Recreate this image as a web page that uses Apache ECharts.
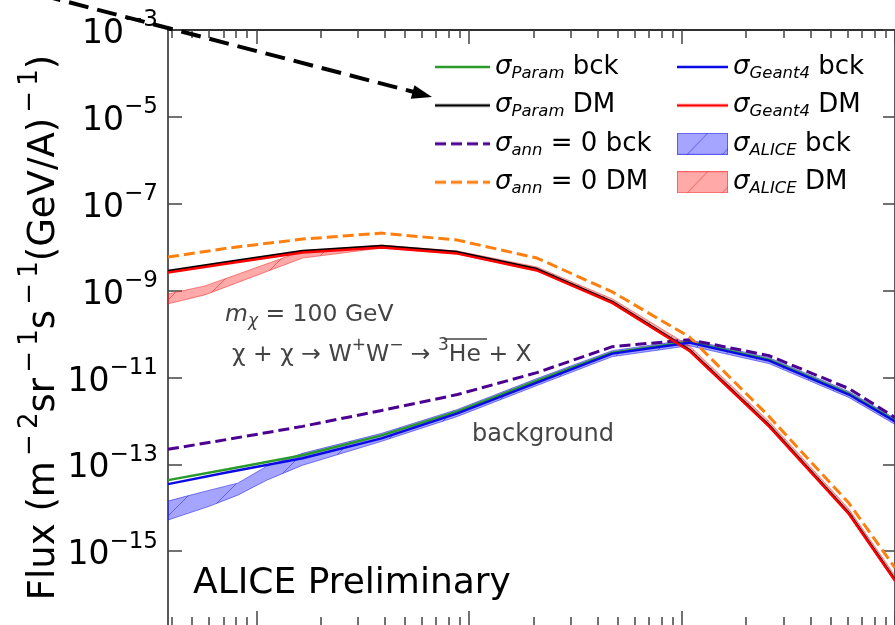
<!DOCTYPE html>
<html>
<head>
<meta charset="utf-8">
<script src="https://cdn.jsdelivr.net/npm/echarts@6/dist/echarts.min.js"></script>
<style>
  html, body { margin: 0; padding: 0; background: #fff; }
  #c { width: 895px; height: 625px; }
</style>
</head>
<body>
<div id="c"></div>
<script>
// Kinetic energy per nucleon (GeV/A) at the curve nodes
const energy = [0.0385, 0.0735, 0.165, 0.388, 0.881, 2.08, 4.70, 10.8, 25.6, 60.7, 100];

// Background (secondary) 3He-bar flux
const paramBck  = [4.32e-14, 7.72e-14, 1.617e-13, 4.65e-13, 1.652e-12, 8.49e-12, 3.72e-11, 6.66e-11, 2.574e-11, 4.27e-12, 1.027e-12];
const geant4Bck = [3.50e-14, 6.59e-14, 1.380e-13, 3.97e-13, 1.486e-12, 7.64e-12, 3.53e-11, 6.32e-11, 2.441e-11, 4.05e-12, 9.74e-13];
const annBck    = [2.219e-13, 3.76e-13, 7.48e-13, 1.741e-12, 4.05e-12, 1.295e-11, 5.11e-11, 7.40e-11, 3.18e-11, 5.56e-12, 1.203e-12];

// Dark-matter (m_chi = 100 GeV, W+W-) 3He-bar flux
const paramDM   = [2.83e-9, 4.55e-9, 8.14e-9, 1.060e-8, 7.72e-9, 3.146e-9, 5.51e-10, 4.36e-11, 7.88e-13, 7.56e-15, 2.196e-16];
const geant4DM  = [2.615e-9, 4.21e-9, 7.52e-9, 9.79e-9, 7.13e-9, 2.905e-9, 5.22e-10, 4.14e-11, 7.48e-13, 7.17e-15, 2.084e-16];
const annDM     = [5.93e-9, 9.54e-9, 1.534e-8, 2.106e-8, 1.455e-8, 5.62e-9, 9.34e-10, 8.67e-11, 1.268e-12, 1.282e-14, 4.14e-16];

// sigma_ALICE uncertainty bands
const aliceBckE  = [0.0385, 0.0452, 0.0605, 0.0819, 0.112, 0.165, 0.388, 0.881, 2.08, 4.70, 10.8, 25.6, 60.7, 100];
const aliceBckHi = [1.424e-14, 1.759e-14, 2.547e-14, 3.69e-14, 9.04e-14, 1.797e-13, 5.17e-13, 1.836e-12, 9.44e-12, 4.14e-11, 7.40e-11, 2.86e-11, 4.75e-12, 1.141e-12];
const aliceBckLo = [5.22e-15, 6.80e-15, 1.094e-14, 1.955e-14, 4.32e-14, 9.54e-14, 3.39e-13, 1.268e-12, 6.52e-12, 3.02e-11, 5.39e-11, 2.084e-11, 3.46e-12, 8.31e-13];

const aliceDME  = [0.0385, 0.0574, 0.165, 0.388, 0.881, 2.08, 4.70, 10.8, 25.6, 60.7, 100];
const aliceDMHi = [8.40e-10, 1.282e-9, 8.14e-9, 1.117e-8, 8.14e-9, 3.50e-9, 6.45e-10, 5.39e-11, 9.74e-13, 9.34e-15, 2.713e-16];
const aliceDMLo = [4.95e-10, 7.97e-10, 5.62e-9, 9.54e-9, 6.95e-9, 2.83e-9, 4.95e-10, 3.93e-11, 7.10e-13, 6.80e-15, 1.977e-16];

// Axis ranges and tick positions
const xMin = 0.0385, xMax = 100;
const yMin = 2.0e-17, yMax = 1e-3;
const xMajor = [0.1, 1, 10, 100];
const xMinor = [0.04, 0.05, 0.06, 0.07, 0.08, 0.09, 0.2, 0.3, 0.4, 0.5, 0.6, 0.7, 0.8, 0.9,
                2, 3, 4, 5, 6, 7, 8, 9, 20, 30, 40, 50, 60, 70, 80, 90];
const yMajor = [1e-15, 1e-13, 1e-11, 1e-9, 1e-7, 1e-5, 1e-3];

const FONT = 'DejaVu Sans';
const F = (size, italic) => (italic ? 'italic ' : '') + size + "px 'DejaVu Sans'";

function zip(xs, ys) { return xs.map((x, i) => [x, ys[i]]); }

function hatchCanvas(color, step) {
  const c = document.createElement('canvas');
  c.width = step; c.height = step;
  const g = c.getContext('2d');
  g.strokeStyle = color; g.lineWidth = 1;
  g.beginPath(); g.moveTo(-2, step + 2); g.lineTo(step + 2, -2); g.stroke();
  return c;
}

// Legend handles drawn as small images
function patchIcon(fill, edge, hatch) {
  const w = 51, h = 22;
  const c = document.createElement('canvas');
  c.width = w; c.height = h;
  const g = c.getContext('2d');
  g.fillStyle = '#fff'; g.fillRect(0, 0, w, h);
  g.fillStyle = fill; g.fillRect(0, 0, w, h);
  g.strokeStyle = hatch; g.lineWidth = 1;
  g.beginPath();
  g.moveTo(10, h); g.lineTo(31, 0);
  g.moveTo(45, h); g.lineTo(66, 0);
  g.stroke();
  g.strokeStyle = edge; g.lineWidth = 1;
  g.strokeRect(0.5, 0.5, w - 1, h - 1);
  return 'image://' + c.toDataURL();
}
function lineIcon(w, color, width, dash) {
  const h = 22;
  const c = document.createElement('canvas');
  c.width = w; c.height = h;
  const g = c.getContext('2d');
  g.strokeStyle = color; g.lineWidth = width;
  if (dash) g.setLineDash(dash);
  g.beginPath(); g.moveTo(0, h / 2); g.lineTo(w, h / 2); g.stroke();
  return 'image://' + c.toDataURL();
}

const cGreen = '#2a9a2a', cBlack = '#000000', cPurple = '#4b0092', cOrange = '#ff7f0e', cBlue = '#0a0ae6', cRed = '#ff0000';
const blueFill = 'rgba(40,40,255,0.42)', blueEdge = 'rgba(30,30,230,0.55)', blueHatch = 'rgba(50,50,220,0.6)';
const redFill = 'rgba(255,40,40,0.40)', redEdge = 'rgba(240,30,30,0.5)', redHatch = 'rgba(220,40,40,0.55)';
const dashPattern = [11, 5];

function band(name, xs, lo, hi, fill, edge, hatch) {
  const pattern = { image: hatchCanvas(hatch, 36), repeat: 'repeat' };
  return {
    type: 'custom', name: name, z: 1, clip: true,
    itemStyle: { color: fill },
    encode: { x: 0, y: [1, 2] },
    data: xs.map((x, i) => [x, lo[i], hi[i]]),
    renderItem: function (params, api) {
      if (params.dataIndex !== 0) return null;
      const pts = [];
      for (let i = 0; i < xs.length; i++) pts.push(api.coord([xs[i], hi[i]]));
      for (let i = xs.length - 1; i >= 0; i--) pts.push(api.coord([xs[i], lo[i]]));
      return {
        type: 'group',
        children: [
          { type: 'polygon', shape: { points: pts }, style: { fill: fill, stroke: edge, lineWidth: 1 } },
          { type: 'polygon', shape: { points: pts }, style: { fill: pattern } }
        ]
      };
    }
  };
}

function line(name, ys, color, width, dash) {
  return {
    type: 'line', name: name, data: zip(energy, ys), symbol: 'none', z: 2,
    lineStyle: { color: color, width: width, type: dash || 'solid' },
    itemStyle: { color: color }
  };
}

function xAx(pos, vals, len, showLine) {
  return {
    type: 'log', logBase: 10, position: pos, min: xMin, max: xMax,
    axisLine: { show: showLine, onZero: false, lineStyle: { color: '#222', width: 1.5 } },
    axisTick: { show: true, inside: true, length: len, customValues: vals, lineStyle: { color: '#444', width: 1.5 } },
    axisLabel: { show: false }, splitLine: { show: false }, minorTick: { show: false }
  };
}

function yAx(pos, showLabel, len) {
  return {
    type: 'log', logBase: 10, position: pos, min: yMin, max: yMax,
    axisLine: { show: true, onZero: false, lineStyle: { color: '#222', width: 1.5 } },
    axisTick: { show: true, inside: true, length: len, customValues: yMajor, lineStyle: { color: '#444', width: 1.5 } },
    axisLabel: {
      show: showLabel, customValues: yMajor, margin: 10,
      formatter: function (v) {
        const e = Math.round(Math.log10(v));
        return '{b|10}{s|\u2212' + Math.abs(e) + '}';
      },
      rich: {
        b: { fontFamily: FONT, fontSize: 33, lineHeight: 42, verticalAlign: 'bottom', color: '#000' },
        s: { fontFamily: FONT, fontSize: 23, lineHeight: 23, verticalAlign: 'top', color: '#000' }
      }
    },
    splitLine: { show: false }, minorTick: { show: false }
  };
}

const legendNames = {
  'pb': '{i|\u03c3}{si|Param}{r| bck}',
  'pd': '{i|\u03c3}{si|Param}{r| DM}',
  'ab': '{i|\u03c3}{si|ann}{r| = 0 bck}',
  'ad': '{i|\u03c3}{si|ann}{r| = 0 DM}',
  'gb': '{i|\u03c3}{si|Geant4}{r| bck}',
  'gd': '{i|\u03c3}{si|Geant4}{r| DM}',
  'lb': '{i|\u03c3}{si|ALICE}{r| bck}',
  'ld': '{i|\u03c3}{si|ALICE}{r| DM}'
};
const legendRich = {
  i: { fontFamily: FONT, fontStyle: 'italic', fontSize: 26, lineHeight: 30, verticalAlign: 'middle', color: '#000' },
  si: { fontFamily: FONT, fontStyle: 'italic', fontSize: 16.5, lineHeight: 17, verticalAlign: 'bottom', color: '#000' },
  r: { fontFamily: FONT, fontSize: 26, lineHeight: 30, verticalAlign: 'middle', color: '#000' }
};
function legendBox(left, width, items) {
  return {
    left: left, top: 54, orient: 'vertical', padding: 0,
    itemWidth: width, itemHeight: 22, itemGap: 10.4,
    selectedMode: false, data: items,
    formatter: function (n) { return legendNames[n]; },
    textStyle: { rich: legendRich }
  };
}

const gray = '#444';
const sup = (t) => '{s|\u2009\u2212\u2009' + t + '}';
const option = {
  animation: false,
  backgroundColor: '#fff',
  grid: { left: 168, right: -1, top: 30, bottom: -2.4, containLabel: false },
  xAxis: [
    xAx('bottom', xMajor, 14, false),
    xAx('bottom', xMinor, 8, false),
    xAx('top', xMajor, 14, true),
    xAx('top', xMinor, 8, true)
  ],
  yAxis: [yAx('left', true, 14), yAx('right', false, 12)],
  legend: [
    legendBox(435, 55, [
      { name: 'pb', icon: lineIcon(55, cGreen, 2.4) },
      { name: 'pd', icon: lineIcon(55, cBlack, 2.4) },
      { name: 'ab', icon: lineIcon(55, cPurple, 3, dashPattern) },
      { name: 'ad', icon: lineIcon(55, cOrange, 3, dashPattern) }]),
    legendBox(677, 51, [
      { name: 'gb', icon: lineIcon(51, cBlue, 2.4) },
      { name: 'gd', icon: lineIcon(51, cRed, 2.4) },
      { name: 'lb', icon: patchIcon(blueFill, blueEdge, blueHatch) },
      { name: 'ld', icon: patchIcon(redFill, redEdge, redHatch) }])
  ],
  series: [
    band('lb', aliceBckE, aliceBckLo, aliceBckHi, blueFill, blueEdge, blueHatch),
    band('ld', aliceDME, aliceDMLo, aliceDMHi, redFill, redEdge, redHatch),
    line('pb', paramBck, cGreen, 2.4),
    line('pd', paramDM, cBlack, 2.4),
    line('ab', annBck, cPurple, 3, dashPattern),
    line('ad', annDM, cOrange, 3, dashPattern),
    line('gb', geant4Bck, cBlue, 2.4),
    line('gd', geant4DM, cRed, 2.4)
  ],
  graphic: [
    {
      type: 'text', x: 40, y: 327.5, rotation: Math.PI / 2, z: 10,
      style: {
        text: '{r|Flux (m}' + sup(2) + '{r|sr}' + sup(1) + '{r|s}' + sup(1) + '{r|(GeV/A)}' + sup(1) + '{r|)}',
        align: 'center', verticalAlign: 'middle',
        rich: {
          r: { font: F(37), lineHeight: 46, verticalAlign: 'bottom', fill: '#000' },
          s: { font: F(26), lineHeight: 26, verticalAlign: 'top', fill: '#000' }
        }
      }
    },
    {
      type: 'text', x: 225, y: 315, z: 10,
      style: {
        text: '{i|m}{si|\u03c7}{r| = 100 GeV}',
        verticalAlign: 'middle',
        rich: {
          i: { font: F(23.5, true), lineHeight: 30, verticalAlign: 'middle', fill: gray },
          si: { font: F(17, true), lineHeight: 16, verticalAlign: 'bottom', fill: gray },
          r: { font: F(23.5), lineHeight: 30, verticalAlign: 'middle', fill: gray }
        }
      }
    },
    {
      type: 'text', x: 232, y: 352, z: 10,
      style: {
        text: '{r|\u03c7 + \u03c7 \u2192 W}{s|+}{r|W}{s|\u2212}{r| \u2192 }{s|3}{r|He + X}',
        verticalAlign: 'middle',
        rich: {
          r: { font: F(23.5), lineHeight: 30, verticalAlign: 'bottom', fill: gray },
          s: { font: F(17), lineHeight: 17, verticalAlign: 'top', fill: gray }
        }
      }
    },
    {
      // bar over He
      type: 'line', z: 10,
      shape: { x1: 444, y1: 339, x2: 487, y2: 339 },
      style: { stroke: gray, lineWidth: 1.5 }
    },
    {
      type: 'text', x: 472, y: 435, z: 10,
      style: { text: 'background', font: F(24), fill: gray, verticalAlign: 'middle' }
    },
    {
      type: 'text', x: 193, y: 583.5, z: 10,
      style: { text: 'ALICE Preliminary', font: F(36), fill: '#000', verticalAlign: 'middle' }
    },
    {
      type: 'line', z: 20,
      shape: { x1: 41, y1: -5, x2: 414, y2: 92 },
      style: { stroke: '#000', lineWidth: 4, lineDash: [20, 9] }
    },
    {
      type: 'polygon', z: 20,
      shape: { points: [[432, 97], [414.4, 85.2], [410.8, 98.8]] },
      style: { fill: '#000' }
    }
  ]
};

const chart = echarts.init(document.getElementById('c'));
chart.setOption(option);
</script>
</body>
</html>
